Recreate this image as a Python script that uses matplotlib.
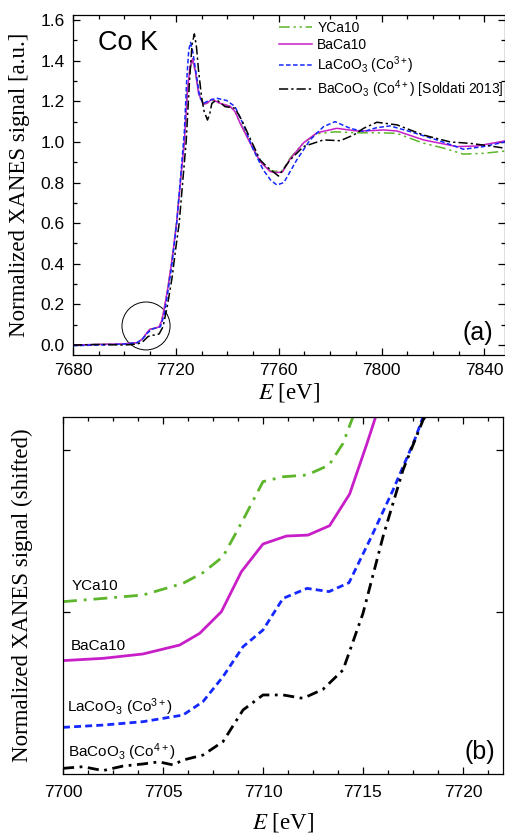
import matplotlib
matplotlib.use("Agg")
import matplotlib.pyplot as plt
from matplotlib.ticker import MultipleLocator, FixedLocator, NullFormatter
from matplotlib.patches import Ellipse

plt.rcParams['font.family'] = ['Liberation Sans', 'DejaVu Sans']
plt.rcParams['mathtext.fontset'] = 'custom'
plt.rcParams['mathtext.rm'] = 'Liberation Sans'
plt.rcParams['mathtext.it'] = 'Liberation Sans:italic'

# ---------------- Panel (a) data ----------------
e_baca = [7680, 7690, 7700, 7705, 7707, 7709, 7710, 7712, 7713.5, 7714.5, 7715.5, 7717, 7718.5,
          7720.3, 7722, 7723.3, 7724.5, 7725.5, 7726.5, 7727.7, 7728.8, 7730.7, 7732, 7734,
          7737.3, 7741.1, 7743, 7745, 7748.9, 7752.8, 7756.7, 7759.3, 7761.5, 7764.4,
          7769.6, 7774.8, 7782.6, 7790.4, 7795, 7800.7, 7806, 7816.3, 7829.3, 7837, 7848]
v_baca = [0.0, 0.003, 0.006, 0.012, 0.03, 0.065, 0.078, 0.083, 0.09, 0.12, 0.18, 0.29, 0.42,
          0.60, 0.83, 1.0, 1.25, 1.37, 1.41, 1.34, 1.24, 1.186, 1.19, 1.21,
          1.19, 1.175, 1.15, 1.092, 0.994, 0.903, 0.854, 0.849, 0.853, 0.915,
          0.995, 1.045, 1.067, 1.054, 1.055, 1.059, 1.054, 1.01, 0.977, 0.98, 1.005]

e_yca = [7680, 7690, 7700, 7705, 7707, 7709, 7710, 7712, 7713.5, 7714.5, 7715.5, 7717, 7718.5,
         7720.3, 7722, 7723.3, 7724.5, 7725.5, 7726.5, 7727.7, 7728.8, 7730.7, 7732, 7734,
         7737.3, 7741.1, 7743, 7745, 7748.9, 7752.8, 7756.7, 7759.3, 7761.5, 7764.4,
         7769.6, 7774.8, 7782, 7790, 7800, 7806, 7816, 7824, 7831.8, 7839.6, 7848]
v_yca = [0.0, 0.003, 0.006, 0.012, 0.03, 0.065, 0.078, 0.083, 0.09, 0.12, 0.18, 0.29, 0.42,
         0.61, 0.84, 1.0, 1.25, 1.36, 1.40, 1.34, 1.24, 1.188, 1.19, 1.205,
         1.19, 1.175, 1.15, 1.095, 0.995, 0.905, 0.858, 0.855, 0.86, 0.92,
         0.995, 1.04, 1.05, 1.045, 1.045, 1.042, 0.995, 0.97, 0.94, 0.944, 0.955]

e_laco = [7680, 7690, 7700, 7705, 7707, 7709, 7710, 7711, 7712.5, 7714, 7715.5, 7717, 7718.5,
          7720.3, 7722, 7723.3, 7724.2, 7725, 7725.7, 7726.5, 7728.1, 7729.3, 7730.7, 7733,
          7735.9, 7739.8, 7743, 7746.3, 7750.2, 7754, 7757, 7759.3, 7762, 7767, 7772.2,
          7777.4, 7781.9, 7787.8, 7793, 7798, 7803.3, 7811.1, 7821.5, 7831.9, 7839.6, 7848]
v_laco = [-0.003, 0.0, 0.005, 0.012, 0.03, 0.06, 0.07, 0.08, 0.085, 0.09, 0.15, 0.27, 0.40,
          0.60, 0.85, 1.05, 1.30, 1.45, 1.49, 1.45, 1.32, 1.22, 1.19, 1.205,
          1.215, 1.204, 1.174, 1.084, 0.96, 0.862, 0.81, 0.788, 0.80, 0.911, 1.01,
          1.075, 1.10, 1.067, 1.051, 1.07, 1.079, 1.051, 1.01, 0.964, 0.977, 1.0]

e_baco = [7680, 7690, 7700, 7705, 7707, 7709, 7710.5, 7712, 7713.5, 7715, 7716.8, 7718.5,
          7720, 7721.3, 7722.5, 7724, 7725.3, 7726.3, 7727.2, 7728, 7728.8, 7730, 7731,
          7732.3, 7733.2, 7734, 7735.9, 7739.1, 7743, 7745.6, 7749.5, 7752.8, 7755.4,
          7759.9, 7764.4, 7769.6, 7777.4, 7783.9, 7789.1, 7793, 7798.2, 7806, 7816.3,
          7826.7, 7834.5, 7842.3, 7848]
v_baco = [0.0, 0.003, 0.0, 0.005, 0.015, 0.04, 0.05, 0.048, 0.055, 0.09, 0.2, 0.33,
          0.48, 0.60, 0.78, 1.0, 1.30, 1.48, 1.532, 1.47, 1.355, 1.22, 1.15,
          1.108, 1.14, 1.19, 1.207, 1.174, 1.166, 1.108, 1.0, 0.911, 0.878,
          0.832, 0.911, 0.977, 1.01, 1.006, 1.034, 1.067, 1.097, 1.084, 1.034,
          1.0, 0.993, 0.98, 0.969]

# ---------------- Panel (b) data (shifted) ----------------
eb_yca = [7700, 7702, 7704, 7706, 7707, 7708, 7709, 7710, 7711, 7712.2, 7713.3, 7714, 7714.5]
vb_yca = [0.1064, 0.1084, 0.1105, 0.1177, 0.1243, 0.1342, 0.1568, 0.1805, 0.1835, 0.1846,
          0.1907, 0.2041, 0.2206]
eb_baca = [7700, 7702, 7704, 7705.83, 7706.83, 7707.92, 7708.92, 7710.0, 7711.17, 7712.25,
           7713.33, 7714.33, 7715.2, 7715.63]
vb_baca = [0.0700, 0.0714, 0.0741, 0.0796, 0.0868, 0.1002, 0.1249, 0.1420, 0.1469, 0.1475,
           0.1533, 0.1728, 0.2041, 0.2204]
eb_laco = [7700, 7702, 7704, 7706, 7707, 7708, 7709, 7710, 7711, 7712.2, 7713.3, 7714.3,
           7715.42, 7716.5, 7717.58, 7718]
vb_laco = [0.0288, 0.0302, 0.0323, 0.0364, 0.0447, 0.0601, 0.0786, 0.0889, 0.1084, 0.1146,
           0.1126, 0.1181, 0.1465, 0.1753, 0.2062, 0.2204]
eb_baco = [7700, 7701, 7702, 7703, 7704, 7704.8, 7705.5, 7706, 7707, 7708, 7709, 7710,
           7711, 7712, 7713, 7714, 7715, 7716, 7717, 7718, 7718.1]
vb_baco = [0.0035, 0.0045, 0.0021, 0.0049, 0.0062, 0.0075, 0.0056, 0.0086, 0.0117, 0.0200,
           0.0395, 0.0488, 0.0488, 0.0467, 0.0523, 0.0642, 0.0992, 0.1465, 0.1877, 0.2185, 0.2204]

labels = ["YCa10", "BaCa10", r"LaCoO$_3$ (Co$^{3+}$)", r"BaCoO$_3$ (Co$^{4+}$) [Soldati 2013]"]
labels_b = ["YCa10", "BaCa10", r"LaCoO$_3$ (Co$^{3+}$)", r"BaCoO$_3$ (Co$^{4+}$)"]

c_green = '#5cb52a'
c_mag = '#c81ec8'
c_blue = '#1428ff'
c_black = '#000000'
ls_green = (0, (7, 2.5, 1.5, 2.5, 1.5, 2.5))
ls_blue = (0, (3, 1.6))
ls_black = (0, (6, 2, 1.5, 2))

fig = plt.figure(figsize=(5.06, 8.36), dpi=100)

# ---------------- Top panel ----------------
ax1 = fig.add_axes([73/506, 1-355/836, 432/506, 340/836])
lw1 = 1.1
ax1.plot(e_yca, v_yca, color=c_green, lw=lw1, ls=ls_green, label=labels[0])
ax1.plot(e_baca, v_baca, color=c_mag, lw=lw1, ls='-', label=labels[1])
ax1.plot(e_laco, v_laco, color=c_blue, lw=lw1, ls=ls_blue, label=labels[2])
ax1.plot(e_baco, v_baco, color=c_black, lw=lw1, ls=ls_black, label=labels[3])
ax1.set_xlim(7680, 7848)
ax1.set_ylim(-0.049, 1.625)
ax1.xaxis.set_major_locator(MultipleLocator(40))
ax1.xaxis.set_minor_locator(MultipleLocator(10))
ax1.yaxis.set_major_locator(MultipleLocator(0.2))
ax1.yaxis.set_minor_locator(MultipleLocator(0.1))
ax1.yaxis.set_major_formatter(matplotlib.ticker.FormatStrFormatter('%.1f'))
ax1.tick_params(which='both', direction='in', top=True, right=True, labelsize=12.5)
ax1.tick_params(which='major', length=5, width=0.9)
ax1.tick_params(which='minor', length=3, width=0.9)
ax1.tick_params(axis='x', pad=6)
ax1.tick_params(axis='y', pad=6)
ax1.set_xlabel('$E$ [eV]', fontfamily='Liberation Serif', fontsize=16.5, math_fontfamily='stix')
ax1.set_ylabel('Normalized XANES signal [a.u.]', fontfamily='Liberation Serif', fontsize=16.5)
ax1.xaxis.set_label_coords(0.5, -0.075)
ax1.yaxis.set_label_coords(-0.10, 0.5)
ax1.text(0.058, 0.918, 'Co K', transform=ax1.transAxes, fontsize=19.5, ha='left', va='center')
ax1.text(0.972, 0.065, '(a)', transform=ax1.transAxes, fontsize=18, ha='right', va='center')
ax1.add_patch(Ellipse((7708.4, 0.094), 18.7, 0.236, fill=False, ec='black', lw=0.7))
leg = ax1.legend(loc='upper right', bbox_to_anchor=(1.02, 1.01), frameon=False, fontsize=10,
                 handlelength=2.4, handletextpad=0.35, labelspacing=0.18, borderaxespad=0.3)
for sp in ax1.spines.values():
    sp.set_linewidth(0.9)

# ---------------- Bottom panel ----------------
ax2 = fig.add_axes([63/506, 1-774/836, 440/506, 357/836])
lw2 = 2.0
ax2.plot(eb_yca, vb_yca, color=c_green, lw=lw2, ls=(0, (5, 2.5, 1, 2.5)))
ax2.plot(eb_baca, vb_baca, color=c_mag, lw=lw2, ls='-')
ax2.plot(eb_laco, vb_laco, color=c_blue, lw=lw2, ls=(0, (2.5, 1.5)))
ax2.plot(eb_baco, vb_baco, color=c_black, lw=lw2, ls=(0, (4, 2, 1, 2)))
ax2.set_xlim(7700, 7722)
ax2.set_ylim(0, 0.2204)
ax2.xaxis.set_major_locator(MultipleLocator(5))
ax2.xaxis.set_minor_locator(MultipleLocator(1.25))
ax2.yaxis.set_major_locator(FixedLocator([0.1, 0.2]))
ax2.yaxis.set_major_formatter(NullFormatter())
ax2.tick_params(which='both', direction='in', top=True, right=True, labelsize=12.5)
ax2.tick_params(which='major', length=5, width=0.9)
ax2.tick_params(which='minor', length=3, width=0.9)
ax2.tick_params(axis='x', pad=8)
ax2.set_xlabel('$E$ [eV]', fontfamily='Liberation Serif', fontsize=16.5, math_fontfamily='stix')
ax2.set_ylabel('Normalized XANES signal (shifted)', fontfamily='Liberation Serif', fontsize=16.5)
ax2.xaxis.set_label_coords(0.5, -0.103)
ax2.yaxis.set_label_coords(-0.068, 0.5)
ax2.text(7700.45, 0.116, labels_b[0], fontsize=11, ha='left', va='center')
ax2.text(7700.4, 0.079, labels_b[1], fontsize=11, ha='left', va='center')
ax2.text(7700.2, 0.041, labels_b[2], fontsize=11, ha='left', va='center')
ax2.text(7700.25, 0.0135, labels_b[3], fontsize=11, ha='left', va='center')
ax2.text(0.982, 0.062, '(b)', transform=ax2.transAxes, fontsize=18, ha='right', va='center')
for sp in ax2.spines.values():
    sp.set_linewidth(0.9)

fig.savefig('out.png', dpi=100)
